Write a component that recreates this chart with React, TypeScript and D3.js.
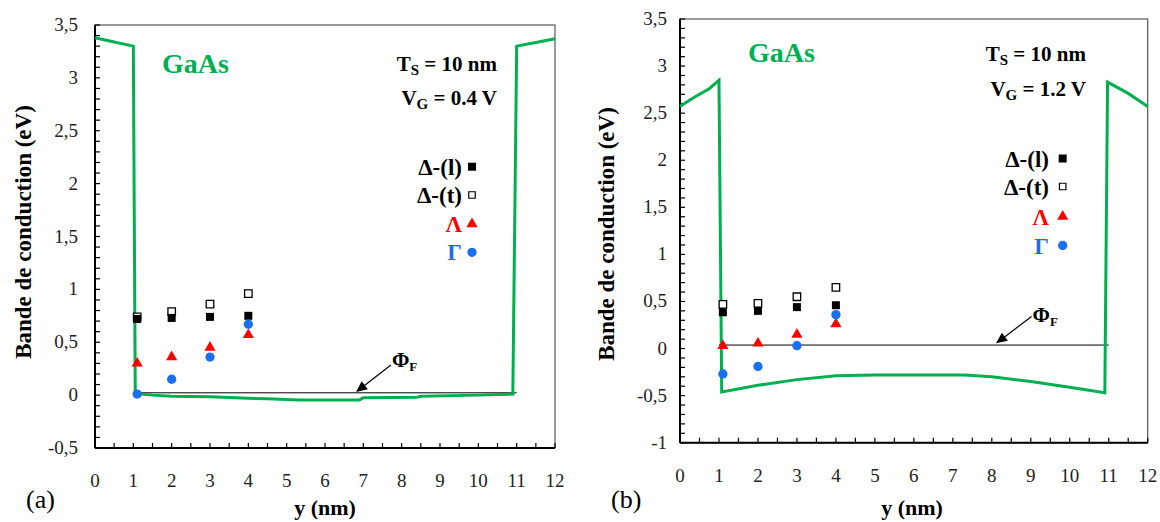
import React from 'react';
import * as d3 from 'd3';

// ---------- data ----------
const xTicks = [0, 1, 2, 3, 4, 5, 6, 7, 8, 9, 10, 11, 12];
const yTicksA = [-0.5, 0, 0.5, 1, 1.5, 2, 2.5, 3, 3.5];
const yTicksB = [-1, -0.5, 0, 0.5, 1, 1.5, 2, 2.5, 3, 3.5];

const kPos = [1.1, 2, 3, 4];

// panel (a) : VG = 0.4 V
const deltaL_A = [0.72, 0.73, 0.74, 0.75];
const deltaT_A = [0.74, 0.79, 0.86, 0.96];
const lambda_A = [0.30, 0.36, 0.45, 0.57];
const gamma_A = [0.01, 0.15, 0.36, 0.67];
const bandX_A = [0, 0.5, 1.0, 1.05, 1.5, 2, 3, 4, 4.5, 5.3, 6.9, 7.0, 8.4, 8.5, 10, 10.9, 11.0, 11.5, 12];
const bandY_A = [3.38, 3.34, 3.30, 0.015, 0.0, -0.01, -0.015, -0.03, -0.035, -0.045, -0.045, -0.025, -0.02, -0.01, 0.0, 0.01, 3.30, 3.335, 3.37];
const fermi_A = { x0: 1.05, x1: 11.0, y: 0.022 };
const arrow_A = { x0: 7.72, y0: 0.285, x1: 6.81, y1: 0.03 };

// panel (b) : VG = 1.2 V
const deltaL_B = [0.385, 0.40, 0.44, 0.46];
const deltaT_B = [0.47, 0.48, 0.55, 0.65];
const lambda_B = [0.03, 0.055, 0.15, 0.26];
const gamma_B = [-0.27, -0.19, 0.03, 0.36];
const bandX_B = [0, 0.25, 0.5, 0.75, 1.0, 1.07, 2, 3, 4, 5, 6, 7.3, 8, 9, 10, 10.9, 10.97, 11.5, 12];
const bandY_B = [2.57, 2.64, 2.70, 2.76, 2.85, -0.46, -0.39, -0.33, -0.29, -0.28, -0.28, -0.28, -0.30, -0.35, -0.41, -0.47, 2.83, 2.71, 2.57];
const fermi_B = { x0: 1.0, x1: 11.0, y: 0.037 };
const arrow_B = { x0: 9.02, y0: 0.34, x1: 8.11, y1: 0.055 };

const legendLabels = ['Δ-(l)', 'Δ-(t)', 'Λ', 'Γ'];
const legendColors = ['#000000', '#000000', '#FF0000', '#1a6ff0'];

const GREEN = '#00B050';
const RED = '#FF0000';
const BLUE = '#1a6ff0';
const FONT = '"Liberation Serif", "DejaVu Serif", serif';

type Layout = {
  left: number; top: number; right: number; bottom: number;
  yMin: number; yMax: number; yTicks: number[]; yLabelGap: number;
  gaasX: number; gaasY: number;
  infoRight: number; tsY: number; vgY: number; vgText: string;
  legTextRight: number; legMarkX: number; legRows: number[];
  yTitleX: number; yTitleY: number; xTitleX: number;
  panelX: number; panelLabel: string;
  phiDx: number; phiDy: number;
};

type Series = {
  dl: number[]; dt: number[]; la: number[]; ga: number[];
  bx: number[]; by: number[];
  fermi: { x0: number; x1: number; y: number };
  arrow: { x0: number; y0: number; x1: number; y1: number };
};

const fmt = (v: number) => String(v).replace('.', ',');

function Panel({ L, S, id }: { L: Layout; S: Series; id: string }) {
  const x = d3.scaleLinear().domain([0, 12]).range([L.left, L.right]);
  const y = d3.scaleLinear().domain([L.yMin, L.yMax]).range([L.bottom, L.top]);

  const line = d3.line<number>().x((_, i) => x(S.bx[i])).y((d) => y(d));
  const bandPath = line(S.by) || '';

  const sq = d3.symbol().type(d3.symbolSquare).size(64)() || '';
  const tri = d3.symbol().type(d3.symbolTriangle).size(54)() || '';
  const circ = d3.symbol().type(d3.symbolCircle).size(68)() || '';

  const yMinor: number[] = [];
  for (let v = Math.round(L.yMin * 10); v <= Math.round(L.yMax * 10); v++) yMinor.push(v / 10);
  const xMinor: number[] = [];
  for (let v = 0; v <= 24; v++) xMinor.push(v / 2);

  const ax = x(S.arrow.x0), ay = y(S.arrow.y0), bx = x(S.arrow.x1), by = y(S.arrow.y1);
  const ang = Math.atan2(by - ay, bx - ax);
  const ah = 11, aw = 5;
  const head = [
    [bx, by],
    [bx - ah * Math.cos(ang) + aw * Math.sin(ang), by - ah * Math.sin(ang) - aw * Math.cos(ang)],
    [bx - ah * Math.cos(ang) - aw * Math.sin(ang), by - ah * Math.sin(ang) + aw * Math.cos(ang)],
  ].map((p) => p.join(',')).join(' ');
  const shaftEndX = bx - (ah - 2) * Math.cos(ang);
  const shaftEndY = by - (ah - 2) * Math.sin(ang);

  const legendSyms = [
    { d: sq, fill: '#000', stroke: 'none' },
    { d: d3.symbol().type(d3.symbolSquare).size(42)() || '', fill: '#fff', stroke: '#000' },
    { d: tri, fill: RED, stroke: 'none' },
    { d: circ, fill: BLUE, stroke: 'none' },
  ];

  return (
    <g id={id}>
      {/* plot border */}
      <rect x={L.left} y={L.top} width={L.right - L.left} height={L.bottom - L.top} fill="none" stroke="#555" strokeWidth={1.2} />
      {/* ticks */}
      {yMinor.map((v) => (
        <line key={'ym' + v} x1={L.left} x2={L.left + 5} y1={y(v)} y2={y(v)} stroke="#000" strokeWidth={1.2} />
      ))}
      {xMinor.map((v) => (
        <line key={'xm' + v} x1={x(v)} x2={x(v)} y1={L.bottom} y2={L.bottom - 5} stroke="#000" strokeWidth={1.2} />
      ))}
      {/* axes */}
      <line x1={L.left} x2={L.left} y1={L.top} y2={L.bottom} stroke="#000" strokeWidth={2} />
      <line x1={L.left} x2={L.right} y1={L.bottom} y2={L.bottom} stroke="#000" strokeWidth={2} />
      {/* tick labels */}
      {L.yTicks.map((v) => (
        <text key={'yl' + v} x={L.left - L.yLabelGap} y={y(v) + 6} textAnchor="end" fontSize={19} fontFamily={FONT} fill="#222">{fmt(v)}</text>
      ))}
      {xTicks.map((v) => (
        <text key={'xl' + v} x={x(v)} y={L.bottom + 39} textAnchor="middle" fontSize={19} fontFamily={FONT} fill="#222">{fmt(v)}</text>
      ))}
      {/* fermi level */}
      <line x1={x(S.fermi.x0)} x2={x(S.fermi.x1)} y1={y(S.fermi.y)} y2={y(S.fermi.y)} stroke="#000" strokeWidth={1} />
      {/* band */}
      <path d={bandPath} fill="none" stroke={GREEN} strokeWidth={3} strokeLinejoin="miter" />
      {/* markers */}
      {S.dt.map((v, i) => (
        <path key={'dt' + i} d={d3.symbol().type(d3.symbolSquare).size(56)() || ''} transform={`translate(${x(kPos[i])},${y(v)})`} fill="#fff" stroke="#000" strokeWidth={1.3} />
      ))}
      {S.dl.map((v, i) => (
        <path key={'dl' + i} d={sq} transform={`translate(${x(kPos[i])},${y(v)})`} fill="#000" />
      ))}
      {S.la.map((v, i) => (
        <path key={'la' + i} d={tri} transform={`translate(${x(kPos[i])},${y(v)})`} fill={RED} />
      ))}
      {S.ga.map((v, i) => (
        <path key={'ga' + i} d={circ} transform={`translate(${x(kPos[i])},${y(v)})`} fill={BLUE} />
      ))}
      {/* arrow */}
      <line x1={ax} y1={ay} x2={shaftEndX} y2={shaftEndY} stroke="#000" strokeWidth={1.2} />
      <polygon points={head} fill="#000" />
      <text x={ax + L.phiDx} y={ay + L.phiDy} fontSize={21} fontWeight="bold" fontFamily={FONT} fill="#000">
        Φ<tspan fontSize={13} dy={4}>F</tspan>
      </text>
      {/* GaAs */}
      <text x={L.gaasX} y={L.gaasY} fontSize={28} fontWeight="bold" fontFamily={FONT} fill={GREEN}>GaAs</text>
      {/* info */}
      <text x={L.infoRight} y={L.tsY} textAnchor="end" fontSize={21} fontWeight="bold" fontFamily={FONT} fill="#000">
        T<tspan fontSize={15} dy={4}>S</tspan><tspan dy={-4}> = 10 nm</tspan>
      </text>
      <text x={L.infoRight} y={L.vgY} textAnchor="end" fontSize={21} fontWeight="bold" fontFamily={FONT} fill="#000">
        V<tspan fontSize={15} dy={4}>G</tspan><tspan dy={-4}>{' = ' + L.vgText}</tspan>
      </text>
      {/* legend */}
      {legendLabels.map((lab, i) => (
        <g key={'lg' + i}>
          <text x={L.legTextRight} y={L.legRows[i] + 8} textAnchor="end" fontSize={23} fontWeight="bold" fontFamily={FONT} fill={legendColors[i]}>{lab}</text>
          <path d={legendSyms[i].d} transform={`translate(${L.legMarkX},${L.legRows[i]})`} fill={legendSyms[i].fill} stroke={legendSyms[i].stroke} strokeWidth={1.2} />
        </g>
      ))}
      {/* axis titles */}
      <text transform={`translate(${L.yTitleX},${L.yTitleY}) rotate(-90)`} textAnchor="middle" fontSize={23} fontWeight="bold" fontFamily={FONT} fill="#000">Bande de conduction (eV)</text>
      <text x={L.xTitleX} y={515} textAnchor="middle" fontSize={22} fontWeight="bold" fontFamily={FONT} fill="#000">y (nm)</text>
      <text x={L.panelX} y={508} fontSize={26} fontFamily={FONT} fill="#000">{L.panelLabel}</text>
    </g>
  );
}

const layoutA: Layout = {
  left: 95, top: 25, right: 555, bottom: 448,
  yMin: -0.5, yMax: 3.5, yTicks: yTicksA, yLabelGap: 17,
  gaasX: 162, gaasY: 73,
  infoRight: 497, tsY: 71, vgY: 105, vgText: '0.4 V',
  legTextRight: 462, legMarkX: 472, legRows: [166.7, 195, 224, 252.3],
  yTitleX: 31, yTitleY: 232, xTitleX: 325,
  panelX: 26, panelLabel: '(a)',
  phiDx: 1, phiDy: 2,
};

const layoutB: Layout = {
  left: 680, top: 19, right: 1147.7, bottom: 442.7,
  yMin: -1, yMax: 3.5, yTicks: yTicksB, yLabelGap: 13,
  gaasX: 748, gaasY: 62,
  infoRight: 1086, tsY: 61, vgY: 96, vgText: '1.2 V',
  legTextRight: 1049, legMarkX: 1062.7, legRows: [158.5, 186.5, 216.5, 245.5],
  yTitleX: 614, yTitleY: 234, xTitleX: 912,
  panelX: 611, panelLabel: '(b)',
  phiDx: 1, phiDy: 5,
};

const seriesA: Series = { dl: deltaL_A, dt: deltaT_A, la: lambda_A, ga: gamma_A, bx: bandX_A, by: bandY_A, fermi: fermi_A, arrow: arrow_A };
const seriesB: Series = { dl: deltaL_B, dt: deltaT_B, la: lambda_B, ga: gamma_B, bx: bandX_B, by: bandY_B, fermi: fermi_B, arrow: arrow_B };

export default function App() {
  return (
    <svg width={1160} height={522} style={{ position: 'absolute', left: 0, top: 0, background: '#fff' }}>
      <rect x={0} y={0} width={1160} height={522} fill="#fff" />
      <Panel L={layoutA} S={seriesA} id="panelA" />
      <Panel L={layoutB} S={seriesB} id="panelB" />
    </svg>
  );
}
